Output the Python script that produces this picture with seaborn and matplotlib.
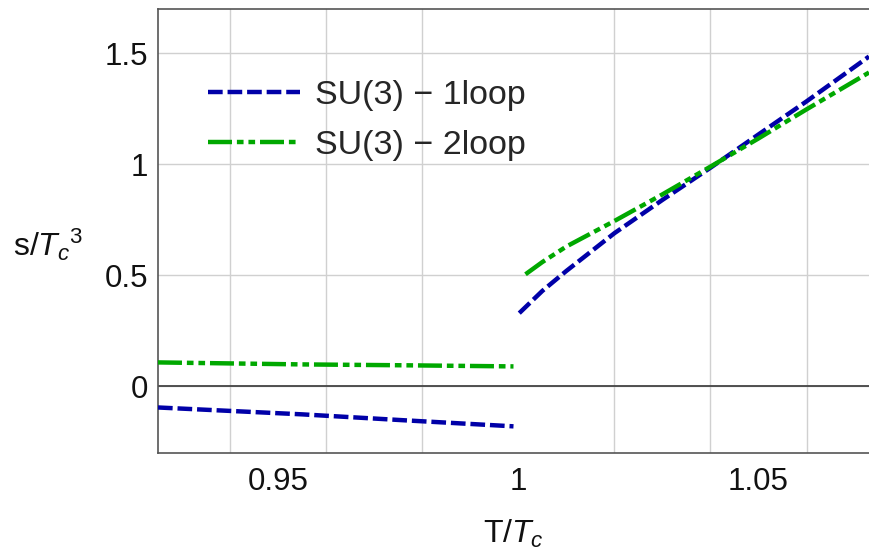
import numpy as np
import pandas as pd
import matplotlib
matplotlib.use("Agg")
import matplotlib.pyplot as plt
import seaborn as sns
from matplotlib.lines import Line2D

# ---- data ----
t1_below = [0.925, 0.955, 0.9765, 0.999]
s1_below = [-0.095, -0.126, -0.153, -0.180]
t2_below = [0.925, 0.955, 0.9765, 0.999]
s2_below = [0.108, 0.099, 0.095, 0.090]
t1_above = [1.0002, 1.005, 1.01, 1.02, 1.03, 1.04, 1.05, 1.06, 1.073]
s1_above = [0.33, 0.43, 0.52, 0.69, 0.84, 0.985, 1.135, 1.284, 1.486]
t2_above = [1.0015, 1.005, 1.01, 1.02, 1.03, 1.04, 1.05, 1.06, 1.073]
s2_above = [0.505, 0.56, 0.63, 0.745, 0.865, 0.99, 1.117, 1.248, 1.414]

series_names = ["SU(3) \u2212 1loop", "SU(3) \u2212 2loop"]
x_ticks = [0.95, 1.0, 1.05]
x_tick_labels = ["0.95", "1", "1.05"]
y_ticks = [0.0, 0.5, 1.0, 1.5]
y_tick_labels = ["0", "0.5", "1", "1.5"]
x_grid = [0.94, 0.96, 0.98, 1.00, 1.02, 1.04, 1.06]

rows = []
for t, s in zip(t1_below, s1_below):
    rows.append((t, s, series_names[0], "below"))
for t, s in zip(t1_above, s1_above):
    rows.append((t, s, series_names[0], "above"))
for t, s in zip(t2_below, s2_below):
    rows.append((t, s, series_names[1], "below"))
for t, s in zip(t2_above, s2_above):
    rows.append((t, s, series_names[1], "above"))
df = pd.DataFrame(rows, columns=["T", "s", "series", "branch"])

sns.set_theme(style="white")
plt.rcParams["font.family"] = ["Liberation Sans", "DejaVu Sans"]
plt.rcParams["mathtext.fontset"] = "custom"
plt.rcParams["mathtext.rm"] = "Liberation Sans"
plt.rcParams["mathtext.it"] = "Liberation Sans:italic"

colors = {series_names[0]: "#0000A8", series_names[1]: "#00A800"}
dashes = {series_names[0]: (3.3, 1.1), series_names[1]: (5.4, 1.1, 1.5, 1.1, 1.5, 1.1)}
lw = 3.2

fig = plt.figure(figsize=(8.69, 5.5), dpi=100)
ax = fig.add_axes([0.1818, 0.1764, 0.8182, 0.8072])

ax.axhline(0, color="#444444", lw=1.3, zorder=1)

sns.lineplot(data=df, x="T", y="s", hue="series", style="series", units="branch",
             estimator=None, sort=False, palette=colors, dashes=dashes,
             linewidth=lw, legend=False, ax=ax, zorder=3)

ax.set_xlim(0.925, 1.073)
ax.set_ylim(-0.3, 1.7)

ax.set_xticks(x_ticks)
ax.set_xticklabels(x_tick_labels)
ax.set_xticks(x_grid, minor=True)
ax.set_yticks(y_ticks)
ax.set_yticklabels(y_tick_labels)

ax.set_axisbelow(True)
ax.grid(False)
ax.xaxis.grid(True, which="minor", color="#d0d0d0", lw=1.0)
ax.yaxis.grid(True, which="major", color="#d0d0d0", lw=1.0)

ax.tick_params(which="major", direction="in", length=6, width=1.0, color="#444444",
               labelsize=22.5, labelcolor="#111111")
ax.tick_params(axis="x", which="major", pad=10)
ax.tick_params(axis="y", which="major", pad=7)
ax.tick_params(which="minor", length=0)

for side in ["left", "bottom", "top"]:
    ax.spines[side].set_color("#555555")
    ax.spines[side].set_linewidth(1.2)
ax.spines["right"].set_visible(False)

ax.set_xlabel(r"T/$T_c$", fontsize=23, color="#111111", labelpad=15)
ax.set_ylabel(r"s/$T_c{}^3$", fontsize=23, color="#111111", rotation=0,
              ha="right", va="center")
ax.yaxis.set_label_coords(-0.105, 0.47)

handles = [Line2D([], [], color=colors[n], lw=lw, dashes=dashes[n]) for n in series_names]
ax.legend(handles, series_names, loc="upper left", bbox_to_anchor=(0.07, 0.84),
          frameon=False, fontsize=24.5, handlelength=2.7, handletextpad=0.45,
          labelspacing=0.55, borderpad=0, borderaxespad=0)

fig.savefig("out.png", dpi=100)
